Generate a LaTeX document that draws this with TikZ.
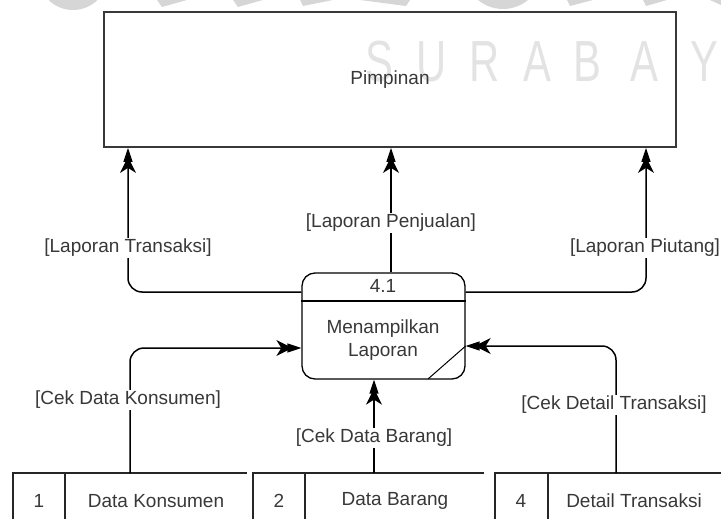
\documentclass[tikz,border=0pt]{standalone}
\usepackage{fontspec}
\setmainfont{Liberation Sans}
\usetikzlibrary{arrows.meta}
\begin{document}
\begin{tikzpicture}[x=1pt,y=-1pt,
  every node/.style={font=\fontsize{19}{23}\selectfont, text=black!78},
  entitybox/.style={draw=black!78, line width=1.8pt, minimum width=572pt, minimum height=135pt, inner sep=0pt},
  procbox/.style={draw=black, line width=1.3pt, rounded corners=13pt, minimum width=163pt, minimum height=106pt, inner sep=0pt},
  storeline/.style={draw=black!85, line width=1.5pt},
  flowtip/.tip={Stealth[length=16pt,width=16pt,inset=5pt,sep=-5pt]Triangle[length=14pt,width=9pt]},
  flow/.style={draw=black, line width=1.5pt, rounded corners=14pt, -flowtip},
  flowlabel/.style={fill=white, inner sep=1.5pt},
  wmshape/.style={fill=black!16, draw=none},
  wmletter/.style={font=\fontsize{58}{58}\selectfont, text=black!11, xscale=0.72, inner sep=0pt},
]
\useasboundingbox (0,0) rectangle (721,519);

% faint watermark in the background
\fill[wmshape] (73,-25) circle[radius=35];
\fill[wmshape] (157,0) -- (187,0) -- (162,7) -- cycle;
\fill[wmshape] (233,0) -- (263,0) -- (238,7) -- cycle;
\fill[wmshape] (300,0) -- (333,0) -- (303,6) -- cycle;
\fill[wmshape] (360,0) -- (410,0) -- (406,6) -- cycle;
\fill[wmshape] (503,-30) circle[radius=39];
\fill[wmshape] (567,0) -- (593,0) -- (570,6) -- cycle;
\fill[wmshape] (643,0) -- (667,0) -- (646,6) -- cycle;
\fill[wmshape] (710,0) -- (721,0) -- (721,5) -- cycle;
\foreach \ch/\cx in {S/379,U/432,R/485,A/537,B/587,A/644,Y/704,A/756}
  \node[wmletter, anchor=base] at (\cx,82) {\ch};

% external entity
\node[entitybox] (pimp) at (390,79.5) {};
\node (pimptext) at (390,80) {Pimpinan};

% process
\node[procbox] (proc) at (383.5,326) {};
\coordinate (divy) at (0,301);
\draw[line width=1.3pt] (proc.west |- divy) -- (proc.east |- divy);
\node (procid) at (383,286) {4.1};
\node[align=center] (procname) at (383,340) {Menampilkan\\Laporan};
\coordinate (diagA) at (428,379);
\coordinate (diagB) at (proc.east |- 0,346);
\draw[line width=1pt] (diagA) -- (diagB);

% data stores
\draw[storeline] (247,473) -- (13,473) -- (13,519);
\draw[storeline] (65,473) -- (65,519);
\node (s1num) at (39,501) {1};
\node (s1) at (156,501) {Data Konsumen};
\draw[storeline] (484,473) -- (253,473) -- (253,519);
\draw[storeline] (305,473) -- (305,519);
\node (s2num) at (279,501) {2};
\node (s2) at (395,501) {Data Barang};
\draw[storeline] (721,473) -- (495,473) -- (495,519);
\draw[storeline] (548,473) -- (548,519);
\node (s4num) at (521,501) {4};
\node (s4) at (634,501) {Detail Transaksi};

% attachment points
\coordinate (xl) at (128,0);
\coordinate (xm) at (391,0);
\coordinate (xr) at (646,0);
\coordinate (outy) at (0,292);
\coordinate (in1y) at (0,348);
\coordinate (in4y) at (0,346);
\coordinate (s1top) at (130,473);
\coordinate (s2top) at (374,473);
\coordinate (s4top) at (616,473);

% data flows
\draw[flow] (proc.west |- outy) -| (pimp.south -| xl);
\draw[flow] (proc.north -| xm) -- (pimp.south -| xm);
\draw[flow] (proc.east |- outy) -| (pimp.south -| xr);
\draw[flow] (s1top) |- (proc.west |- in1y);
\draw[flow] (s2top) -- (proc.south -| s2top);
\draw[flow] (s4top) |- (proc.east |- in4y);

% flow labels
\node[flowlabel] (l1) at (128,248) {[Laporan Transaksi]};
\node[flowlabel] (l2) at (391,223) {[Laporan Penjualan]};
\node[flowlabel] (l3) at (645,248) {[Laporan Piutang]};
\node[flowlabel] (l4) at (128,400) {[Cek Data Konsumen]};
\node[flowlabel] (l5) at (374,438) {[Cek Data Barang]};
\node[flowlabel] (l6) at (614,405) {[Cek Detail Transaksi]};
\end{tikzpicture}
\end{document}
